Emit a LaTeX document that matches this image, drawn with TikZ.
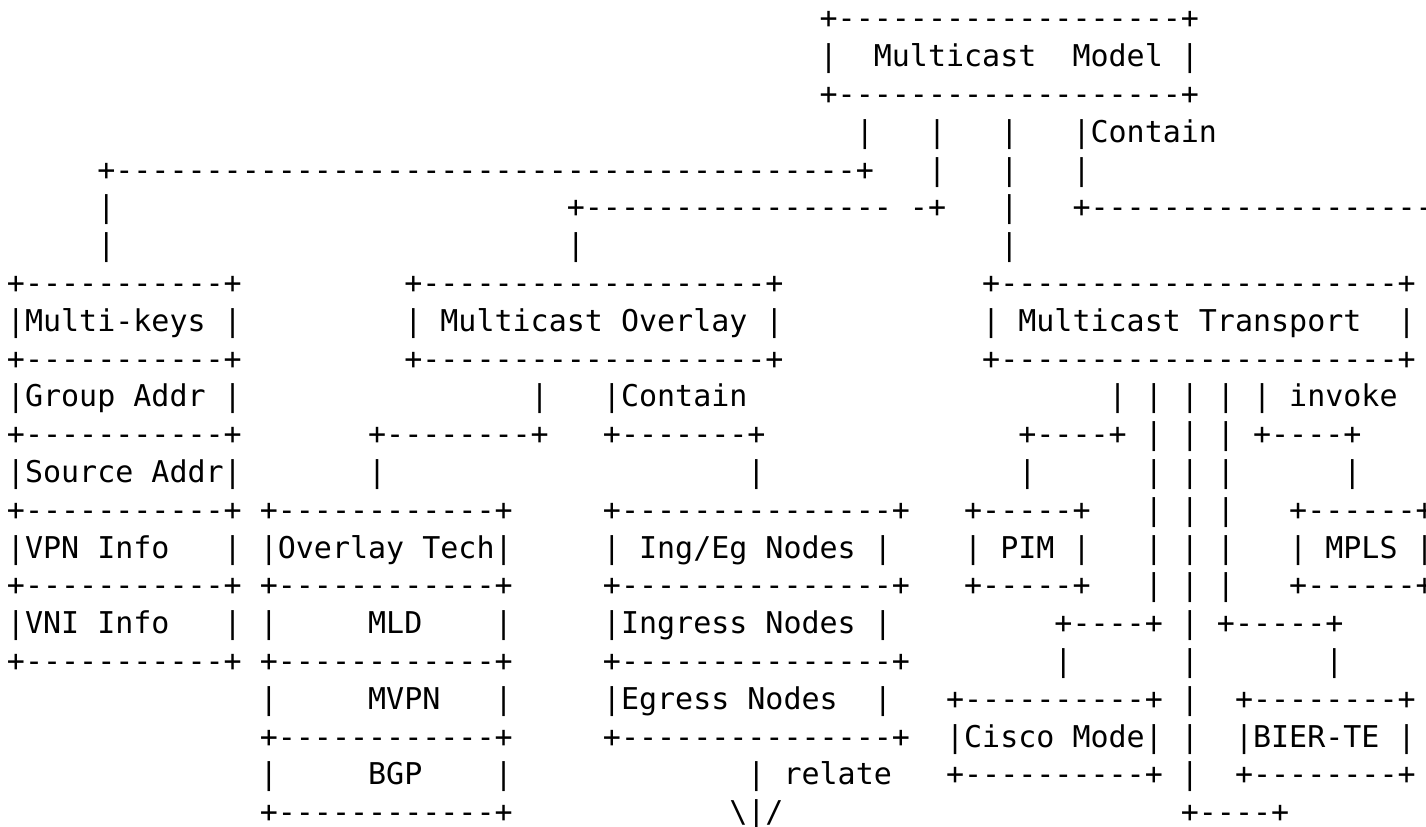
\documentclass[tikz,border=0pt]{standalone}
\usepackage{fontspec}
\setmonofont{DejaVu Sans Mono}
\usepackage{tikz}

\begin{document}
\begin{tikzpicture}[x=9.03pt, y=18.9pt,
    txt/.style={anchor=base west, inner sep=0pt, outer sep=0pt,
        font=\ttfamily\fontsize{15pt}{15pt}\selectfont}]

    % Page frame (1426 x 826 at 0.5pt per pixel)
    \fill[white] (0pt,0pt) rectangle (713pt,-413pt);
    \useasboundingbox (0pt,0pt) rectangle (713pt,-413pt);
    \clip (0pt,0pt) rectangle (713pt,-413pt);

    % one unit = one character cell, one row = one text line
    \begin{scope}[shift={(3.485pt,4.45pt)}]

    % ==========================================
    % TOP: MULTICAST MODEL
    % ==========================================
    \node[txt] (l1a) at (45,-1) {+-------------------+};
    \node[txt] (l2a) at (45,-2) {|};
    \node[txt] (l2b) at (48,-2) {Multicast};
    \node[txt] (l2c) at (59,-2) {Model |};
    \node[txt] (l3a) at (45,-3) {+-------------------+};

    % contain lines going down
    \node[txt] (l4a) at (47,-4) {|};
    \node[txt] (l4b) at (51,-4) {|};
    \node[txt] (l4c) at (55,-4) {|};
    \node[txt] (l4d) at (59,-4) {|Contain};
    \node[txt] (l5a) at (5,-5) {+-----------------------------------------+};
    \node[txt] (l5b) at (51,-5) {|};
    \node[txt] (l5c) at (55,-5) {|};
    \node[txt] (l5d) at (59,-5) {|};
    \node[txt] (l6a) at (5,-6) {|};
    \node[txt] (l6b) at (31,-6) {+-----------------};
    \node[txt] (l6c) at (50,-6) {-+};
    \node[txt] (l6d) at (55,-6) {|};
    \node[txt] (l6e) at (59,-6) {+---------------------};
    \node[txt] (l7a) at (5,-7) {|};
    \node[txt] (l7b) at (31,-7) {|};
    \node[txt] (l7c) at (55,-7) {|};

    % ==========================================
    % SECOND ROW OF BOXES
    % ==========================================
    \node[txt] (l8a) at (0,-8) {+-----------+};
    \node[txt] (l8b) at (22,-8) {+-------------------+};
    \node[txt] (l8c) at (54,-8) {+----------------------+};
    \node[txt] (l9a) at (0,-9) {|Multi-keys |};
    \node[txt] (l9b) at (22,-9) {| Multicast Overlay |};
    \node[txt] (l9c) at (54,-9) {| Multicast Transport};
    \node[txt] (l9d) at (77,-9) {|};
    \node[txt] (l10a) at (0,-10) {+-----------+};
    \node[txt] (l10b) at (22,-10) {+-------------------+};
    \node[txt] (l10c) at (54,-10) {+----------------------+};

    % keys list and links under overlay / transport
    \node[txt] (l11a) at (0,-11) {|Group Addr |};
    \node[txt] (l11b) at (29,-11) {|};
    \node[txt] (l11c) at (33,-11) {|Contain};
    \node[txt] (l11d) at (61,-11) {| | | | | invoke};
    \node[txt] (l12a) at (0,-12) {+-----------+};
    \node[txt] (l12b) at (20,-12) {+--------+};
    \node[txt] (l12c) at (33,-12) {+-------+};
    \node[txt] (l12d) at (56,-12) {+----+ | | | +----+};
    \node[txt] (l13a) at (0,-13) {|Source Addr|};
    \node[txt] (l13b) at (20,-13) {|};
    \node[txt] (l13c) at (41,-13) {|};
    \node[txt] (l13d) at (56,-13) {|};
    \node[txt] (l13e) at (63,-13) {| | |};
    \node[txt] (l13f) at (74,-13) {|};

    % ==========================================
    % THIRD ROW OF BOXES
    % ==========================================
    \node[txt] (l14a) at (0,-14) {+-----------+ +------------+};
    \node[txt] (l14b) at (33,-14) {+---------------+};
    \node[txt] (l14c) at (53,-14) {+-----+};
    \node[txt] (l14d) at (63,-14) {| | |};
    \node[txt] (l14e) at (71,-14) {+------+};
    \node[txt] (l15a) at (0,-15) {|VPN Info};
    \node[txt] (l15b) at (12,-15) {| |Overlay Tech|};
    \node[txt] (l15c) at (33,-15) {| Ing/Eg Nodes |};
    \node[txt] (l15d) at (53,-15) {| PIM |};
    \node[txt] (l15e) at (63,-15) {| | |};
    \node[txt] (l15f) at (71,-15) {| MPLS |};
    \node[txt] (l16a) at (0,-16) {+-----------+ +------------+};
    \node[txt] (l16b) at (33,-16) {+---------------+};
    \node[txt] (l16c) at (53,-16) {+-----+};
    \node[txt] (l16d) at (63,-16) {| | |};
    \node[txt] (l16e) at (71,-16) {+------+};

    \node[txt] (l17a) at (0,-17) {|VNI Info};
    \node[txt] (l17b) at (12,-17) {| |};
    \node[txt] (l17c) at (20,-17) {MLD};
    \node[txt] (l17d) at (27,-17) {|};
    \node[txt] (l17e) at (33,-17) {|Ingress Nodes |};
    \node[txt] (l17f) at (58,-17) {+----+ | +-----+};
    \node[txt] (l18a) at (0,-18) {+-----------+ +------------+};
    \node[txt] (l18b) at (33,-18) {+---------------+};
    \node[txt] (l18c) at (58,-18) {|};
    \node[txt] (l18d) at (65,-18) {|};
    \node[txt] (l18e) at (73,-18) {|};

    % ==========================================
    % BOTTOM ROWS
    % ==========================================
    \node[txt] (l19a) at (14,-19) {|};
    \node[txt] (l19b) at (20,-19) {MVPN};
    \node[txt] (l19c) at (27,-19) {|};
    \node[txt] (l19d) at (33,-19) {|Egress Nodes};
    \node[txt] (l19e) at (48,-19) {|};
    \node[txt] (l19f) at (52,-19) {+----------+ |};
    \node[txt] (l19g) at (68,-19) {+--------+};
    \node[txt] (l20a) at (14,-20) {+------------+};
    \node[txt] (l20b) at (33,-20) {+---------------+};
    \node[txt] (l20c) at (52,-20) {|Cisco Mode| |};
    \node[txt] (l20d) at (68,-20) {|BIER-TE |};
    \node[txt] (l21a) at (14,-21) {|};
    \node[txt] (l21b) at (20,-21) {BGP};
    \node[txt] (l21c) at (27,-21) {|};
    \node[txt] (l21d) at (41,-21) {| relate};
    \node[txt] (l21e) at (52,-21) {+----------+ |};
    \node[txt] (l21f) at (68,-21) {+--------+};
    \node[txt] (l22a) at (14,-22) {+------------+};
    \node[txt] (l22b) at (40,-22) {\textbackslash|/};
    \node[txt] (l22c) at (65,-22) {+----+};

    \end{scope}

\end{tikzpicture}
\end{document}
